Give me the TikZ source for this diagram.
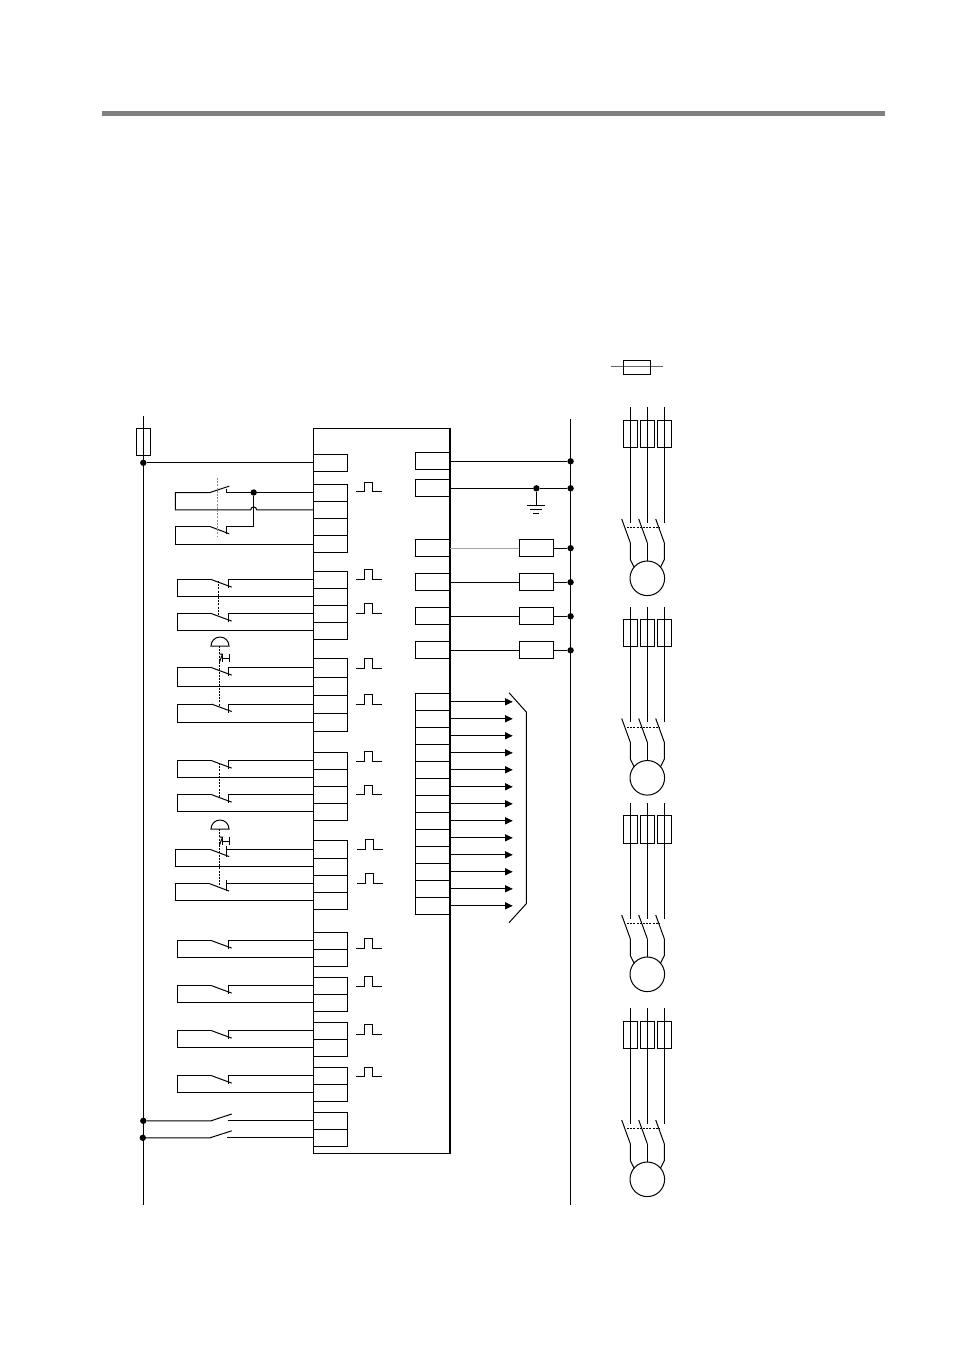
\documentclass[tikz,border=0pt]{standalone}
\usepackage{tikz}
\usetikzlibrary{calc}
\usetikzlibrary{arrows.meta}
\tikzset{
  wire/.style={line width=1pt},
  term/.style={draw,line width=1pt,inner sep=0pt,outer sep=0pt,minimum width=34pt,minimum height=17pt},
  coil/.style={term,minimum width=34.4pt},
  fuse/.style={draw,line width=1pt,inner sep=0pt,outer sep=0pt,minimum width=14.4pt,minimum height=27pt},
  jdot/.style={circle,fill=black,inner sep=0pt,outer sep=0pt,minimum size=6.4pt},
  link/.style={line width=0.8pt,densely dashed,dash pattern=on 2pt off 1.2pt},
  outarrow/.style={line width=1pt,-{Triangle[length=7.5pt,width=7pt]}},
}
% contact closed at rest: #1 upper terminal, #2 lower terminal
\newcommand{\ncwire}[2]{
  \draw[wire] (#1.west) -- ++(-84.7,0) coordinate (#1c) -- ++(0,8.3);
  \draw[wire] (#1c) ++(-16.8,0) coordinate (#1b) -- ++(19.8,7.3);
  \draw[wire] (#1b) -- ++(-34.4,0) |- (#2.west);
}
% same thing, for the wider ones on the left
\newcommand{\ncwidewire}[2]{
  \draw[wire] (#1.west) -- ++(-86.8,0) coordinate (#1c) -- ++(0,-3.5) ++(0,3.5) -- ++(0,7.5);
  \draw[wire] (#1c) ++(-16.7,0) coordinate (#1b) -- ++(19.3,7.3);
  \draw[wire] (#1b) -- ++(-34.7,0) |- (#2.west);
}
% push button with its latch
\newcommand{\pushbtn}[1]{
  \draw[wire] (#1) ++(-9,0) arc (180:360:9) -- cycle;
  \draw[wire] (#1) ++(-0.5,8) -- ++(3,0) -- ++(-3,8);
  \draw[wire] (#1) ++(2.5,8) -- ++(0,8) ++(0,-4) -- ++(7,0) ++(0,-4.2) -- ++(0,8.6);
}
% pulse mark: #1 is the left end
\newcommand{\pulsemark}[1]{
  \draw[wire] (#1) -- ++(8.3,0) -- ++(0,-9.7) -- ++(8,0) -- ++(0,9.7) -- ++(9.7,0);
}
\begin{document}
\begin{tikzpicture}[x=1pt,y=-1pt]
  \useasboundingbox (0,0) rectangle (954,1350);
  \fill[black!50] (102,111) rectangle (885,116);

  % controller frame
  \draw[wire] (450,428.3) -- (313.4,428.3) -- (313.4,1153.3) -- (450,1153.3);
  \draw[line width=1.8pt] (450,427.9) -- (450,1153.8);

  % left terminals
  \foreach \nm/\yy/\hh in {L1/462.8/17,
      L2/492.5/17,L3/509.9/17.8,L4/527.3/17,L5/544/16.4,
      L6/579.8/17,L7/596.8/17,L8/613.8/17,L9/630.8/17,
      L10/667.8/19,L11/686.2/17.7,L12/704.2/18.3,L13/722.3/18,
      L14/760.8/17,L15/777.8/17,L16/794.8/17,L17/811.8/17,
      L18/849.3/18,L19/866.8/17,L20/883.8/17,L21/900.8/17,
      L22/940.8/17,L23/957.8/17,L24/985.8/17,L25/1002.8/17,
      L26/1030.8/17,L27/1047.8/17,L28/1075.8/17,L29/1092.8/17,
      L30/1120.8/17,L31/1137.8/17}
    \node[term,minimum height=\hh pt] (\nm) at (330.4,\yy) {};

  % right terminals
  \foreach \nm/\yy in {R1/461.3,R2/488.3,R3/548.2,R4/582.2,R5/616.3,R6/650.3}
    \node[term,minimum width=34.6pt] (\nm) at (432.7,\yy) {};
  \foreach \i in {1,...,13} {
    \pgfmathsetmacro{\yy}{701.8+17*(\i-1)}
    \node[term,minimum width=34.6pt] (A\i) at (432.7,\yy) {};
    \draw[outarrow] (A\i.east) -- ++(62.7,0);
  }
  \draw[line width=1pt] (509,692.7) -- (526.3,712) -- (526.3,903.7) -- (509,922.7);

  % supply lines
  \coordinate (BL1) at (143.3,416);
  \coordinate (BL2) at (143.3,1205);
  \coordinate (BR1) at (570.6,419.3);
  \coordinate (BR2) at (570.6,1205);
  \draw[wire] (BL1) -- (BL2);
  \draw[wire] (BR1) -- (BR2);
  \node[fuse] (F0) at (143.4,441.8) {};
  \node[jdot] (D1) at (143.3,462.8) {};
  \draw[wire] (D1) -- (L1.west);

  % outputs to the right line
  \foreach \i/\yy in {1/461.3,2/488.3,3/548.2,4/582.2,5/616.3,6/650.3}
    \node[jdot] (P\i) at (570.6,\yy) {};
  \draw[wire] (R1.east) -- (P1);
  \node[jdot] (G0) at (536.4,488.3) {};
  \draw[wire] (R2.east) -- (G0) -- (P2);
  \coordinate (G1) at (536.4,505);
  \draw[wire] (G0) -- (G1);
  \draw[wire] (G1) ++(-9,0) -- ++(18,0) ++(-15,4) -- ++(12,0) ++(-9,4.3) -- ++(6,0);
  \foreach \i in {3,...,6} {
    \node[coil] (K\i) at (536.4,0 |- R\i) {};
    \draw[wire] (K\i.east) -- (P\i);
  }
  \draw[line width=1pt,black!35] (R3.east) -- (K3.west);
  \draw[wire] (R4.east) -- (K4.west);
  \draw[wire] (R5.east) -- (K5.west);
  \draw[wire] (R6.east) -- (K6.west);

  % first group with the hop
  \node[jdot] (D2) at (253.7,492.5) {};
  \draw[wire] (L2.west) -- (D2) -- ++(-27,0) coordinate (C2) -- ++(0,-3.5);
  \draw[wire] (C2) ++(-16.7,0) coordinate (B2) -- ++(19.3,-6.4);
  \draw[wire] (B2) -- ++(-34.7,0) |- (250.7,509.9) arc (180:360:3) -- (L3.west);
  \draw[wire] (D2) -- (253.7,526.5) -- ++(-27,0) coordinate (C4) -- ++(0,7);
  \draw[wire] (C4) ++(-16.7,0) coordinate (B4) -- ++(19.3,7.3);
  \draw[wire] (B4) -- ++(-34.7,0) |- (L5.west);
  \draw[link,black!45] (217,478) -- (217,536);

  % double contacts
  \ncwire{L6}{L7}
  \ncwire{L8}{L9}
  \draw[link] (218.7,581) -- (218.7,615);
  \coordinate (PB1) at (220,646);
  \pushbtn{PB1}
  \ncwire{L10}{L11}
  \ncwire{L12}{L13}
  \draw[link] (219.5,646) -- (219.5,706.5);
  \ncwire{L14}{L15}
  \ncwire{L16}{L17}
  \draw[link] (219.3,763) -- (219.3,797);
  \coordinate (PB2) at (220,829);
  \pushbtn{PB2}
  \ncwidewire{L18}{L19}
  \ncwidewire{L20}{L21}
  \draw[link] (219.5,829) -- (219.5,886);

  % single contacts
  \ncwire{L22}{L23}
  \ncwire{L24}{L25}
  \ncwire{L26}{L27}
  \ncwire{L28}{L29}

  % open contacts fed from the left line
  \node[jdot] (D3) at (143.3,1120.8) {};
  \node[jdot] (D4) at (142.8,1137.8) {};
  \draw[wire] (D3) -- ++(67.7,0) -- ++(20.7,-6.8);
  \draw[wire] (L30.west) -- ++(-85,0);
  \draw[wire] (D4) -- ++(67.2,0) -- ++(21.7,-7);
  \draw[wire] (L31.west) -- ++(-86,0);

  % pulses
  \foreach \xx/\yy in {356/491.7,356/579.3,356/613.3,356/668,356/704.3,356/761,356/794.7,
      357/849.3,357/883.3,356/948.3,356/986,356/1034.3,356/1076.7} {
    \pulsemark{\xx,\yy}
  }

  % fuse on top
  \coordinate (FA) at (611,366.7);
  \coordinate (FB) at (662.7,366.7);
  \draw[line width=1pt,black!60] (FA) -- (FB);
  \node[fuse,minimum width=27.4pt,minimum height=14pt] (F1) at (637,367.3) {};

  % motor groups
  \foreach \m/\dd/\fh in {a/0/27,b/199.5/27.3,c/396/28.3,d/601/27} {
    \foreach \n/\xx in {1/630.3,2/647.3,3/664.3} {
      \coordinate (\m T\n) at (\xx,407.3+\dd);
      \coordinate (\m E\n) at (\xx,522.7+\dd);
      \draw[wire] (\m T\n) -- (\m E\n);
      \node[fuse,minimum height=\fh pt] (\m F\n) at (\xx,433.8+\dd) {};
      \draw[wire] (\xx-8.6,519+\dd) -- (\xx,542.7+\dd) coordinate (\m B\n);
    }
    \draw[link] (627,527.7+\dd) -- (660,527.7+\dd);
    \node[circle,draw,line width=1pt,inner sep=0pt,outer sep=0pt,minimum size=34.6pt] (\m M) at (647.3,578.3+\dd) {};
    \draw[wire] (\m B1) -- ++(0,17) -- (\m M.140);
    \draw[wire] (\m B2) -- (\m M.north);
    \draw[wire] (\m B3) -- ++(0,17) -- (\m M.40);
  }
\end{tikzpicture}
\end{document}
